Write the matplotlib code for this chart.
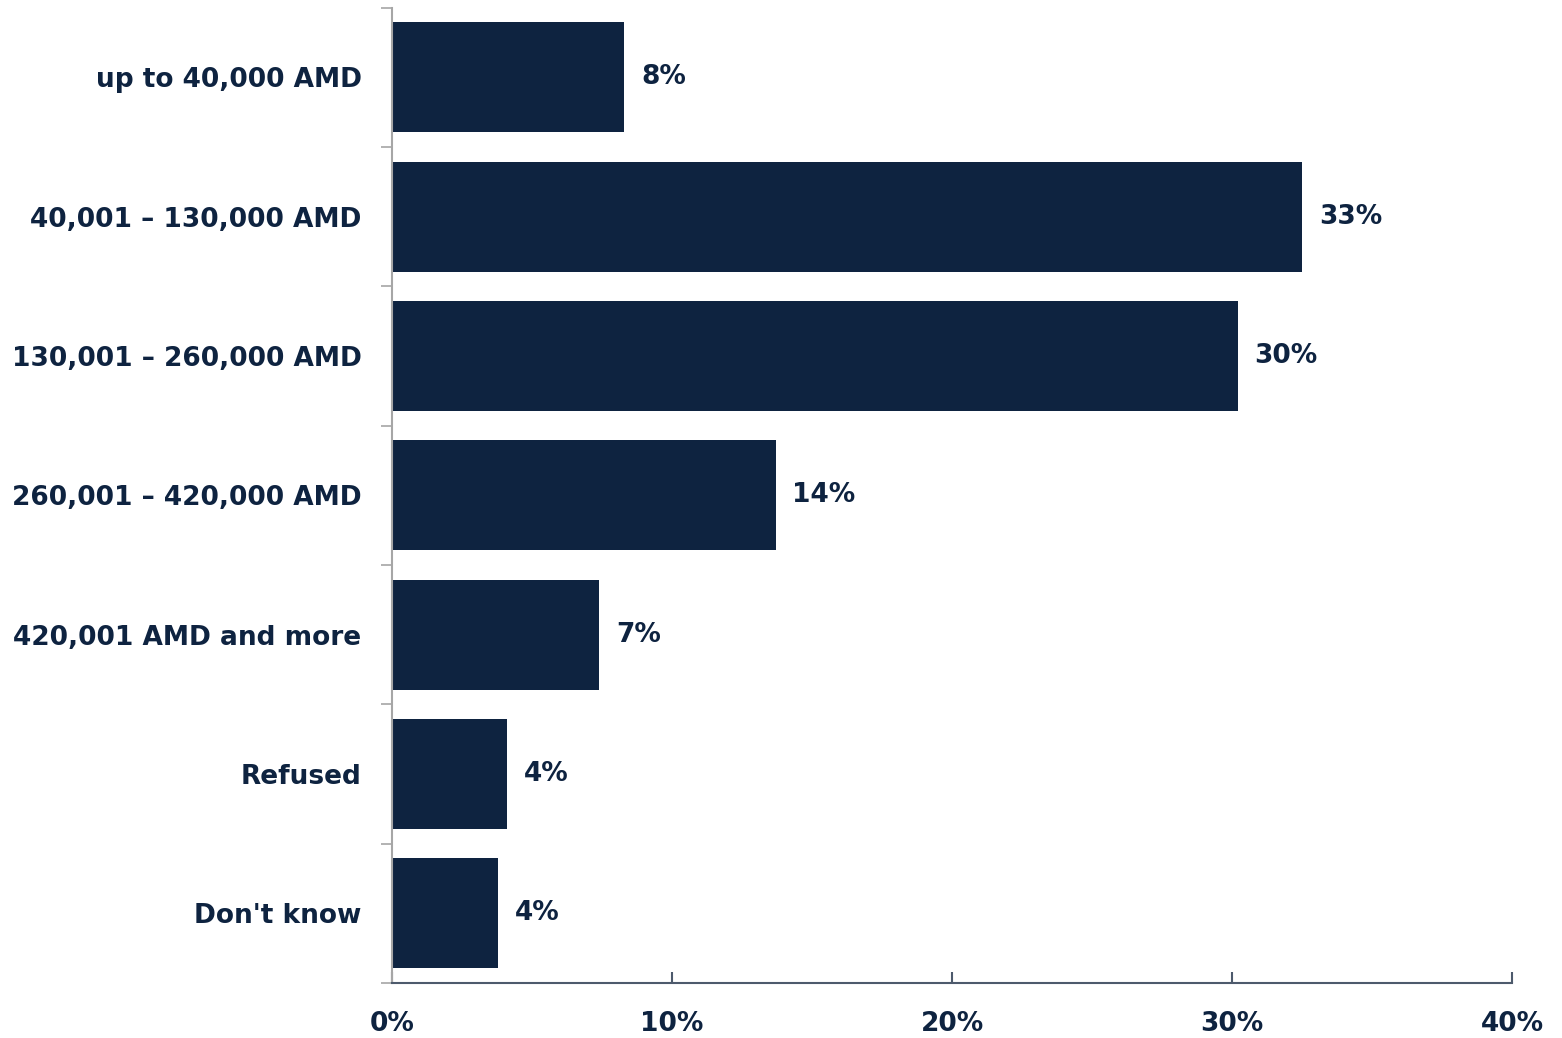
import matplotlib.pyplot as plt
from matplotlib.ticker import FixedLocator, PercentFormatter

categories = ["up to 40,000 AMD", "40,001 \u2013 130,000 AMD", "130,001 \u2013 260,000 AMD",
              "260,001 \u2013 420,000 AMD", "420,001 AMD and more", "Refused", "Don't know"]
values = [8.3, 32.5, 30.2, 13.7, 7.4, 4.1, 3.8]
labels = ["8%", "33%", "30%", "14%", "7%", "4%", "4%"]

navy = "#0e2340"

fig = plt.figure(figsize=(15.62, 10.38), dpi=100)
ax = fig.add_axes([0.251, 0.053, 0.717, 0.9397])

pos = list(range(len(categories)))
ax.barh(pos, values, height=0.79, color=navy)
for p, v, t in zip(pos, values, labels):
    ax.annotate(t, (v, p), xytext=(12, 0), textcoords="offset points",
                va="center", ha="left", fontsize=19, fontweight="bold", color=navy)

ax.set_xlim(0, 40)
ax.set_ylim(len(categories) - 0.5, -0.5)
ax.set_xticks([0, 10, 20, 30, 40])
ax.xaxis.set_major_formatter(PercentFormatter(decimals=0))
ax.set_yticks(pos)
ax.set_yticklabels(categories)
ax.yaxis.set_minor_locator(FixedLocator([i - 0.5 for i in range(len(categories) + 1)]))

for s in ["top", "right"]:
    ax.spines[s].set_visible(False)
ax.spines["left"].set_color("#a6a6a6")
ax.spines["left"].set_linewidth(1.5)
ax.spines["bottom"].set_color("#4d5a6c")
ax.spines["bottom"].set_linewidth(1.5)

ax.tick_params(axis="y", which="major", length=0, pad=22)
ax.tick_params(axis="y", which="minor", length=8, width=1.2, color="#a6a6a6")
ax.tick_params(axis="x", which="major", direction="in", length=8, width=1.5,
               color="#4d5a6c", pad=20)
for lab in ax.get_xticklabels() + ax.get_yticklabels():
    lab.set_fontsize(19)
    lab.set_fontweight("bold")
    lab.set_color(navy)

fig.savefig("out.png", dpi=100)
